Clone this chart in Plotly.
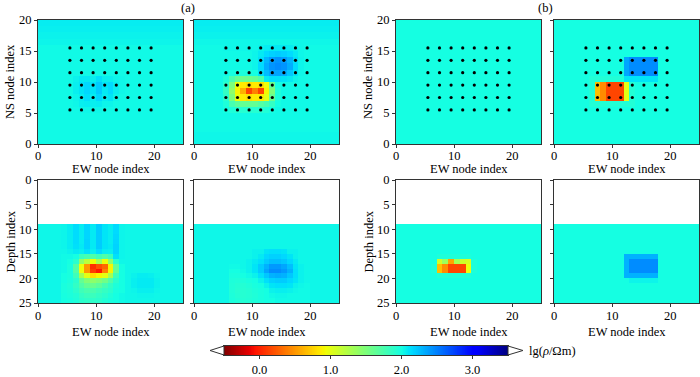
import numpy as np
import plotly.graph_objects as go

# ---------------- data ----------------
NX, NY, NZ = 25, 20, 25
DEPTH_TOP = 9                      # first depth row with model values
dot_x = [5.5, 7.5, 9.5, 11.5, 13.5, 15.5, 17.5, 19.5]
dot_y = [5.5, 7.5, 9.5, 11.5, 13.5, 15.5]
x_ticks = [0, 10, 20]

# (a) inversion, horizontal slice 1 (rows listed from top y downward)
a1_top_bg = 2.02
a1_top_band_y = [19, 18, 17, 16]
a1_top_band_v = [2.07, 2.06, 2.05, 2.04]
a1_top_x0, a1_top_ytop = 6, 10
a1_top_rows = [
    [2.05, 2.08, 2.08, 2.06, 2.12, 2.06, 2.06, 2.04, 2.03],
    [2.06, 2.1, 2.15, 2.1, 2.2, 2.1, 2.14, 2.06, 2.03],
    [2.06, 2.1, 2.15, 2.1, 2.2, 2.08, 2.14, 2.06, 2.03],
    [2.04, 2.07, 2.12, 2.07, 2.15, 2.07, 2.1, 2.04, 2.02],
    [2.03, 2.06, 2.07, 2.06, 2.07, 2.04, 2.04, 2.02, 2.02],
    [2.02, 2.03, 2.03, 2.03, 2.03, 2.02, 2.02, 2.02, 2.02],
]

# (a) inversion, horizontal slice 2
a2_top_bg = 2.02
a2_top_band_y = [19, 18, 17, 16, 1, 0]
a2_top_band_v = [2.07, 2.06, 2.05, 2.03, 2.03, 2.03]
a2_top_x0, a2_top_ytop = 5, 15
a2_top_rows = [
    [2.03, 2.03, 2.03, 2.03, 2.03, 2.03, 2.05, 2.07, 2.08, 2.08, 2.08, 2.07, 2.05, 2.03],
    [2.02, 2.02, 2.02, 2.02, 2.02, 2.04, 2.08, 2.14, 2.18, 2.2, 2.18, 2.14, 2.08, 2.03],
    [2.02, 2.02, 2.02, 2.02, 2.02, 2.04, 2.12, 2.28, 2.38, 2.42, 2.38, 2.28, 2.12, 2.04],
    [2.02, 2.02, 2.02, 2.02, 2.02, 2.04, 2.14, 2.32, 2.42, 2.45, 2.42, 2.32, 2.14, 2.04],
    [2.02, 2.0, 2.0, 1.97, 1.97, 2.0, 2.12, 2.26, 2.35, 2.36, 2.32, 2.22, 2.1, 2.03],
    [1.96, 1.75, 1.62, 1.58, 1.58, 1.62, 1.72, 2.08, 2.12, 2.12, 2.1, 2.08, 2.04, 2.02],
    [1.9, 1.5, 0.95, 0.85, 0.8, 0.85, 0.8, 0.95, 1.6, 2.0, 2.02, 2.02, 2.02, 2.02],
    [1.85, 1.4, 0.9, 0.6, 0.15, 0.4, 0.15, 0.9, 1.5, 1.96, 2.02, 2.02, 2.02, 2.02],
    [1.9, 1.5, 0.95, 0.85, 0.8, 0.85, 0.85, 1.0, 1.6, 1.96, 2.02, 2.02, 2.02, 2.02],
    [1.96, 1.76, 1.66, 1.62, 1.62, 1.62, 1.7, 1.76, 1.86, 2.0, 2.02, 2.02, 2.02, 2.02],
    [2.0, 1.96, 1.92, 1.92, 1.92, 1.92, 1.92, 1.95, 2.0, 2.02, 2.02, 2.02, 2.02, 2.02],
]

# (b) true model, horizontal slice 1 (homogeneous)
b1_top_bg = 2.0

# (b) true model, horizontal slice 2
b2_top_bg = 2.0
b2_top_x0, b2_top_ytop = 6, 13
b2_top_rows = [
    [2.0, 2.0, 2.0, 2.0, 2.0, 2.0, 2.35, 2.45, 2.45, 2.45, 2.45, 2.45, 2.0],
    [2.0, 2.0, 2.0, 2.0, 2.0, 2.0, 2.35, 2.45, 2.45, 2.45, 2.45, 2.45, 2.0],
    [2.0, 2.0, 2.0, 2.0, 2.0, 2.0, 2.35, 2.45, 2.45, 2.45, 2.45, 2.45, 2.0],
    [1.94, 1.94, 1.94, 1.94, 1.94, 1.94, 2.1, 2.1, 2.1, 2.1, 2.1, 2.1, 2.0],
    [1.94, 0.67, 0.45, 0.15, 0.15, 0.15, 1.0, 1.94, 2.0, 2.0, 2.0, 2.0, 2.0],
    [1.94, 0.67, 0.45, 0.15, 0.15, 0.15, 1.0, 1.94, 2.0, 2.0, 2.0, 2.0, 2.0],
    [1.94, 0.67, 0.45, 0.15, 0.15, 0.15, 1.0, 1.94, 2.0, 2.0, 2.0, 2.0, 2.0],
    [1.94, 1.94, 1.94, 1.94, 1.94, 1.94, 1.94, 1.94, 2.0, 2.0, 2.0, 2.0, 2.0],
]

# (a) inversion, vertical slice 1 (rows listed from depth 9 downward)
a1_bot_bg = 2.03
a1_bot_x0, a1_bot_dtop = 4, 9
a1_bot_rows = [
    [2.04, 2.07, 2.13, 2.07, 2.16, 2.08, 2.2, 2.1, 2.07, 2.14, 2.04, 2.03, 2.03, 2.03, 2.03, 2.03, 2.03, 2.03],
    [2.04, 2.07, 2.13, 2.07, 2.16, 2.08, 2.2, 2.1, 2.07, 2.14, 2.04, 2.03, 2.03, 2.03, 2.03, 2.03, 2.03, 2.03],
    [2.04, 2.07, 2.13, 2.07, 2.16, 2.08, 2.2, 2.1, 2.07, 2.15, 2.04, 2.03, 2.03, 2.03, 2.03, 2.03, 2.03, 2.03],
    [2.04, 2.07, 2.13, 2.07, 2.17, 2.08, 2.2, 2.1, 2.07, 2.16, 2.04, 2.03, 2.03, 2.03, 2.03, 2.03, 2.03, 2.03],
    [2.04, 2.07, 2.12, 2.08, 2.17, 2.08, 2.2, 2.1, 2.08, 2.17, 2.04, 2.03, 2.03, 2.03, 2.03, 2.03, 2.03, 2.03],
    [2.03, 2.05, 2.08, 2.06, 2.12, 2.06, 2.14, 2.07, 2.06, 2.17, 2.04, 2.03, 2.03, 2.03, 2.03, 2.03, 2.03, 2.03],
    [2.02, 2.02, 2.0, 1.82, 1.76, 1.72, 1.8, 1.72, 1.82, 2.12, 2.04, 2.03, 2.03, 2.03, 2.03, 2.03, 2.03, 2.03],
    [2.02, 2.0, 1.9, 1.4, 1.2, 0.95, 1.3, 0.95, 1.4, 1.9, 2.03, 2.03, 2.03, 2.03, 2.03, 2.03, 2.03, 2.03],
    [2.02, 1.98, 1.7, 0.95, 0.5, 0.05, 0.2, 0.3, 0.9, 1.62, 2.0, 2.03, 2.03, 2.03, 2.03, 2.03, 2.03, 2.03],
    [2.02, 1.98, 1.7, 0.95, 0.5, 0.1, -0.05, 0.4, 0.9, 1.62, 2.0, 2.03, 2.03, 2.03, 2.03, 2.03, 2.03, 2.03],
    [2.0, 1.98, 1.8, 1.3, 1.0, 0.8, 0.9, 1.0, 1.3, 1.8, 2.0, 2.03, 2.05, 2.07, 2.07, 2.06, 2.04, 2.03],
    [2.0, 1.97, 1.9, 1.62, 1.48, 1.42, 1.48, 1.56, 1.72, 1.9, 2.0, 2.03, 2.06, 2.08, 2.08, 2.08, 2.05, 2.03],
    [1.98, 1.95, 1.86, 1.72, 1.62, 1.6, 1.66, 1.76, 1.86, 1.96, 2.0, 2.03, 2.06, 2.08, 2.08, 2.08, 2.05, 2.03],
    [1.98, 1.96, 1.9, 1.8, 1.75, 1.75, 1.8, 1.85, 1.9, 1.98, 2.0, 2.03, 2.04, 2.06, 2.06, 2.06, 2.04, 2.03],
    [1.99, 1.97, 1.94, 1.86, 1.82, 1.82, 1.86, 1.9, 1.95, 2.0, 2.02, 2.03, 2.03, 2.04, 2.04, 2.04, 2.03, 2.03],
    [2.0, 1.99, 1.96, 1.9, 1.88, 1.88, 1.9, 1.94, 1.98, 2.0, 2.02, 2.03, 2.03, 2.03, 2.03, 2.03, 2.03, 2.03],
]

# (a) inversion, vertical slice 2
a2_bot_bg = 2.03
a2_bot_x0, a2_bot_dtop = 6, 14
a2_bot_rows = [
    [2.03, 2.03, 2.03, 2.03, 2.05, 2.05, 2.1, 2.12, 2.12, 2.1, 2.05, 2.05, 2.03, 2.03],
    [2.03, 2.03, 2.03, 2.03, 2.05, 2.08, 2.15, 2.18, 2.18, 2.15, 2.1, 2.05, 2.03, 2.03],
    [2.03, 2.03, 2.03, 2.05, 2.08, 2.12, 2.2, 2.25, 2.25, 2.22, 2.15, 2.08, 2.03, 2.03],
    [2.02, 2.02, 2.03, 2.05, 2.1, 2.2, 2.3, 2.4, 2.4, 2.35, 2.25, 2.1, 2.05, 2.03],
    [2.0, 2.0, 2.02, 2.05, 2.1, 2.2, 2.35, 2.45, 2.45, 2.4, 2.3, 2.12, 2.05, 2.03],
    [1.98, 1.98, 2.0, 2.02, 2.05, 2.12, 2.22, 2.3, 2.32, 2.3, 2.22, 2.12, 2.05, 2.03],
    [1.96, 1.95, 1.96, 1.98, 2.0, 2.05, 2.12, 2.18, 2.2, 2.2, 2.15, 2.1, 2.05, 2.03],
    [1.95, 1.93, 1.93, 1.95, 1.98, 2.0, 2.05, 2.1, 2.12, 2.12, 2.1, 2.05, 2.03, 2.02],
    [1.95, 1.92, 1.92, 1.93, 1.96, 1.98, 2.0, 2.05, 2.06, 2.06, 2.05, 2.03, 2.02, 2.02],
    [1.96, 1.93, 1.92, 1.93, 1.95, 1.98, 2.0, 2.02, 2.03, 2.03, 2.02, 2.02, 2.02, 2.02],
    [1.97, 1.95, 1.93, 1.94, 1.96, 1.98, 2.0, 2.0, 2.02, 2.02, 2.02, 2.02, 2.02, 2.02],
]

# (b) true model, vertical slice 1
b1_bot_bg = 2.0
b1_bot_x0, b1_bot_dtop = 6, 15
b1_bot_rows = [
    [2.0, 1.96, 1.96, 1.96, 1.96, 1.96, 1.96, 2.0],
    [2.0, 1.1, 1.35, 0.55, 1.3, 1.1, 1.05, 1.96],
    [1.96, 0.67, 0.45, 0.15, 0.15, 0.15, 0.95, 1.96],
    [1.96, 0.67, 0.45, 0.15, 0.15, 0.15, 0.95, 1.96],
    [2.0, 1.94, 1.94, 1.94, 1.94, 1.94, 1.94, 2.0],
]

# (b) true model, vertical slice 2
b2_bot_bg = 2.0
b2_bot_x0, b2_bot_dtop = 12, 15
b2_bot_rows = [
    [2.3, 2.3, 2.3, 2.3, 2.3, 2.3],
    [2.3, 2.45, 2.45, 2.45, 2.45, 2.45],
    [2.3, 2.45, 2.45, 2.45, 2.45, 2.45],
    [2.3, 2.45, 2.45, 2.45, 2.45, 2.45],
    [2.3, 2.3, 2.3, 2.3, 2.3, 2.3],
    [2.0, 2.04, 2.04, 2.04, 2.04, 2.04],
]

cbar_ticks = [0, 1, 2, 3]
cbar_ticktext = ["0.0", "1.0", "2.0", "3.0"]
cmin, cmax = -0.5, 3.5

# ---------------- grid building ----------------
def ns_grid(bg, x0=None, ytop=None, rows=None, band_y=(), band_v=()):
    g = np.full((NY, NX), float(bg))
    for yy, vv in zip(band_y, band_v):
        g[yy, :] = vv
    if rows is not None:
        for k, r in enumerate(rows):
            g[ytop - k, x0:x0 + len(r)] = r
    return g

def depth_grid(bg, x0=None, dtop=None, rows=None):
    g = np.full((NZ, NX), float(bg))
    g[:DEPTH_TOP, :] = np.nan
    if rows is not None:
        for k, r in enumerate(rows):
            g[dtop + k, x0:x0 + len(r)] = r
    return g

grids = [
    ns_grid(a1_top_bg, a1_top_x0, a1_top_ytop, a1_top_rows, a1_top_band_y, a1_top_band_v),
    ns_grid(a2_top_bg, a2_top_x0, a2_top_ytop, a2_top_rows, a2_top_band_y, a2_top_band_v),
    ns_grid(b1_top_bg),
    ns_grid(b2_top_bg, b2_top_x0, b2_top_ytop, b2_top_rows),
    depth_grid(a1_bot_bg, a1_bot_x0, a1_bot_dtop, a1_bot_rows),
    depth_grid(a2_bot_bg, a2_bot_x0, a2_bot_dtop, a2_bot_rows),
    depth_grid(b1_bot_bg, b1_bot_x0, b1_bot_dtop, b1_bot_rows),
    depth_grid(b2_bot_bg, b2_bot_x0, b2_bot_dtop, b2_bot_rows),
]

# matplotlib "jet" reversed (red = low)
_seg = {
    "r": [(0, 0), (0.35, 0), (0.66, 1), (0.89, 1), (1, 0.5)],
    "g": [(0, 0), (0.125, 0), (0.375, 1), (0.64, 1), (0.91, 0), (1, 0)],
    "b": [(0, 0.5), (0.11, 1), (0.34, 1), (0.65, 0), (1, 0)],
}
_pts = sorted({p for s in _seg.values() for p, _ in s})
def _ch(c, p):
    xs, ys = zip(*_seg[c])
    return float(np.interp(p, xs, ys))
colorscale = []
for p in sorted({1 - q for q in _pts}):
    q = 1 - p
    colorscale.append([p, "rgb(%d,%d,%d)" % tuple(round(255 * _ch(c, q)) for c in "rgb")])

# ---------------- figure ----------------
W, H = 700, 377
FONT = "Liberation Serif, Times New Roman, serif"
FS = 12.5
xdom = [(38, 183), (194, 339), (396, 541), (554, 699)]
ydom_top = (20, 144)
ydom_bot = (180, 303)
cb_x0, cb_x1, cb_y0, cb_y1 = 224, 508, 346, 355

fig = go.Figure()
xc = np.arange(NX) + 0.5
for i, g in enumerate(grids):
    n = i + 1
    yc = np.arange(g.shape[0]) + 0.5
    fig.add_trace(go.Heatmap(
        z=g, x=xc, y=yc, coloraxis="coloraxis",
        xaxis="x%d" % n, yaxis="y%d" % n, hoverinfo="skip",
    ))
    if i < 4:
        fig.add_trace(go.Scatter(
            x=[x for y in dot_y for x in dot_x],
            y=[y for y in dot_y for x in dot_x],
            mode="markers", marker=dict(color="black", size=3.2),
            xaxis="x%d" % n, yaxis="y%d" % n, showlegend=False, hoverinfo="skip",
        ))

# colour bar drawn as its own small heatmap axis
cb_vals = np.linspace(cmin, cmax, 401)
fig.add_trace(go.Heatmap(
    z=[cb_vals], x=cb_vals, y=[0], coloraxis="coloraxis",
    xaxis="x9", yaxis="y9", hoverinfo="skip",
))

tfont = dict(family=FONT, size=FS, color="black")
axis_common = dict(
    showline=True, mirror=True, linecolor="#333", linewidth=1,
    ticks="outside", ticklen=3, tickcolor="#333", showgrid=False, zeroline=False,
    tickfont=tfont, automargin=False,
)
layout = {}
for i in range(8):
    n = i + 1
    col = i % 4
    top = i < 4
    x0, x1 = xdom[col]
    y0, y1 = ydom_top if top else ydom_bot
    layout["xaxis%d" % n] = dict(
        axis_common, domain=[x0 / W, x1 / W], anchor="y%d" % n,
        range=[0, 25], tickvals=x_ticks, showticklabels=False,
    )
    ya = dict(
        axis_common, domain=[1 - y1 / H, 1 - y0 / H], anchor="x%d" % n,
        showticklabels=(col % 2 == 0),
    )
    if top:
        ya.update(range=[0, 20], tickvals=[0, 5, 10, 15, 20])
    else:
        ya.update(range=[25, 0], tickvals=[0, 5, 10, 15, 20, 25])
    layout["yaxis%d" % n] = ya

    # x tick labels (placed at the tick values of each x axis)
    for tv in x_ticks:
        fig.add_annotation(x=tv, xref="x%d" % n, y=1 - (155.5 if top else 315.5) / H,
                           yref="paper", text=str(tv), showarrow=False,
                           xanchor="center", yanchor="middle", font=tfont)
    # axis titles
    fig.add_annotation(x=(x0 + x1) / 2 / W, y=1 - (169 if top else 332) / H,
                       xref="paper", yref="paper", text="EW node index",
                       showarrow=False, xanchor="center", yanchor="middle", font=tfont)
    if col % 2 == 0:
        fig.add_annotation(x=(x0 - 28) / W, y=1 - (y0 + y1) / 2 / H,
                           xref="paper", yref="paper",
                           text="NS node index" if top else "Depth index",
                           textangle=-90, showarrow=False, xanchor="center",
                           yanchor="middle", font=tfont)

layout["xaxis9"] = dict(
    axis_common, domain=[cb_x0 / W, cb_x1 / W], anchor="y9",
    range=[cmin, cmax], tickvals=cbar_ticks, ticktext=cbar_ticktext,
)
layout["yaxis9"] = dict(
    showline=True, mirror=True, linecolor="#333", linewidth=1, ticks="",
    showticklabels=False, showgrid=False, zeroline=False, automargin=False,
    domain=[1 - cb_y1 / H, 1 - cb_y0 / H], anchor="x9", range=[-0.5, 0.5],
)

fig.update_layout(
    **layout,
    width=W, height=H, margin=dict(l=0, r=0, t=0, b=0),
    paper_bgcolor="white", plot_bgcolor="white", showlegend=False,
    font=dict(family=FONT, size=FS, color="black"),
    coloraxis=dict(colorscale=colorscale, cmin=cmin, cmax=cmax, showscale=False),
)

mid = (cb_y0 + cb_y1) / 2
def P(x, y):
    return "%.4f %.4f" % (x / W, 1 - y / H)
fig.add_shape(type="path", xref="paper", yref="paper",
              path="M %s L %s L %s Z" % (P(cb_x0, cb_y0), P(cb_x0 - 14, mid), P(cb_x0, cb_y1)),
              fillcolor="white", line=dict(color="#333", width=1))
fig.add_shape(type="path", xref="paper", yref="paper",
              path="M %s L %s L %s Z" % (P(cb_x1, cb_y0), P(cb_x1 + 15, mid), P(cb_x1, cb_y1)),
              fillcolor="white", line=dict(color="#333", width=1))

fig.add_annotation(x=527 / W, y=1 - mid / H, xref="paper", yref="paper",
                   text="lg(<i>ρ</i>/Ωm)", showarrow=False, xanchor="left", yanchor="middle",
                   font=tfont)
fig.add_annotation(x=188 / W, y=1 - 8 / H, xref="paper", yref="paper", text="(a)",
                   showarrow=False, xanchor="center", yanchor="middle", font=tfont)
fig.add_annotation(x=545 / W, y=1 - 8 / H, xref="paper", yref="paper", text="(b)",
                   showarrow=False, xanchor="center", yanchor="middle", font=tfont)

fig.write_html(
    "out.html",
    config={"displayModeBar": False},
    post_script="document.body.style.margin='0';document.body.style.overflow='hidden';",
)
